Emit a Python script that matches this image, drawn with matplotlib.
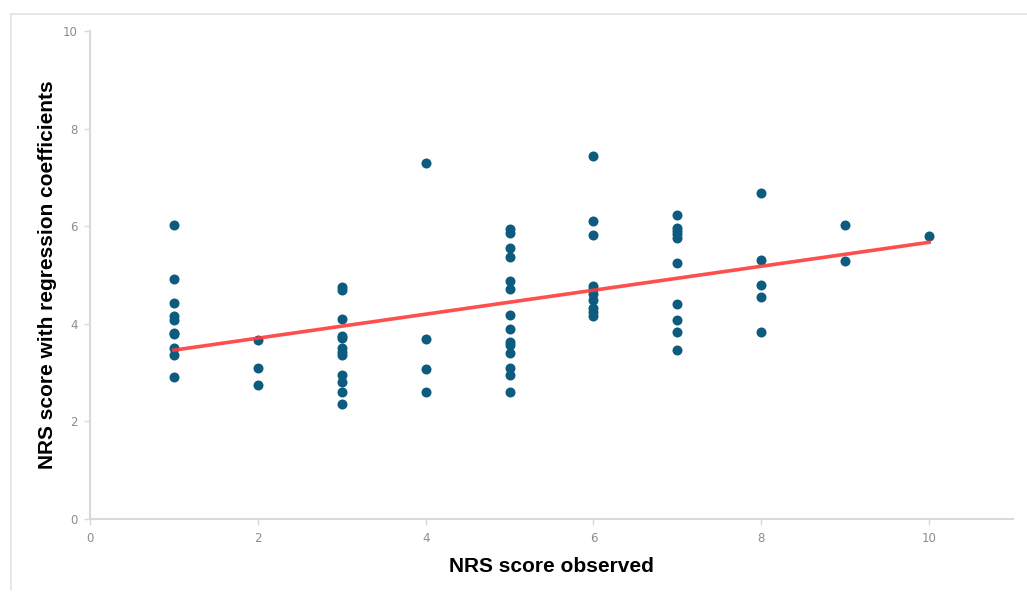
import numpy as np
import matplotlib.pyplot as plt
from matplotlib.lines import Line2D

# observed NRS score (x) and predicted score (y) per column
x1 = [1] * 10
y1 = [6.02, 4.92, 4.42, 4.17, 4.08, 3.82, 3.79, 3.50, 3.36, 2.90]
x2 = [2] * 3
y2 = [3.67, 3.10, 2.74]
x3 = [3] * 12
y3 = [4.76, 4.69, 4.10, 3.76, 3.70, 3.50, 3.43, 3.36, 2.95, 2.81, 2.61, 2.36]
x4 = [4] * 4
y4 = [7.30, 3.69, 3.07, 2.60]
x5 = [5] * 14
y5 = [5.94, 5.87, 5.56, 5.37, 4.88, 4.71, 4.18, 3.90, 3.63, 3.57, 3.41, 3.10, 2.95, 2.60]
x6 = [6] * 10
y6 = [7.43, 6.11, 5.81, 4.78, 4.71, 4.62, 4.49, 4.32, 4.25, 4.15]
x7 = [7] * 10
y7 = [6.23, 5.97, 5.90, 5.83, 5.76, 5.25, 4.40, 4.07, 3.84, 3.46]
x8 = [8] * 5
y8 = [6.69, 5.31, 4.79, 4.55, 3.83]
x9 = [9] * 2
y9 = [6.03, 5.29]
x10 = [10]
y10 = [5.79]

# trend line end points
fit_x = [1, 10]
fit_y = [3.46, 5.67]

xs = x1 + x2 + x3 + x4 + x5 + x6 + x7 + x8 + x9 + x10
ys = y1 + y2 + y3 + y4 + y5 + y6 + y7 + y8 + y9 + y10

fig = plt.figure(figsize=(10.27, 5.93), dpi=100)
ax = fig.add_axes([90 / 1027, 1 - 519 / 593, (1013 - 90) / 1027, (519 - 31) / 593])

ax.scatter(xs, ys, s=52, color='#0D5B7E', zorder=3, linewidths=0)
ax.plot(fit_x, fit_y, color='#FF3B3B', lw=2.6, alpha=0.9, zorder=4)

ax.set_xlim(0, 11)
ax.set_ylim(0, 10)
ax.set_xticks([0, 2, 4, 6, 8, 10])
ax.set_yticks([0, 2, 4, 6, 8, 10])

for s in ['top', 'right']:
    ax.spines[s].set_visible(False)
for s in ['left', 'bottom']:
    ax.spines[s].set_color('#D9D9D9')
    ax.spines[s].set_linewidth(1.5)
ax.tick_params(axis='both', colors='#D9D9D9', length=4, width=1, labelsize=8.5,
               labelcolor='#8C8C8C', pad=5)

font = ['Liberation Sans Narrow', 'Liberation Sans', 'DejaVu Sans']
ax.set_xlabel('NRS score observed', fontsize=15, fontweight='bold', family=font,
              labelpad=9)
ax.set_ylabel('NRS score with regression coefficients', fontsize=15,
              fontweight='bold', family=font, labelpad=4)

# thin frame around the chart (top and left edges)
fig.add_artist(Line2D([11 / 1027, 1], [1 - 14 / 593, 1 - 14 / 593],
                      color='#E3E3E3', lw=1.2))
fig.add_artist(Line2D([11 / 1027, 11 / 1027], [1 - 590 / 593, 1 - 14 / 593],
                      color='#E3E3E3', lw=1.2))

plt.savefig('out.png', dpi=100)
